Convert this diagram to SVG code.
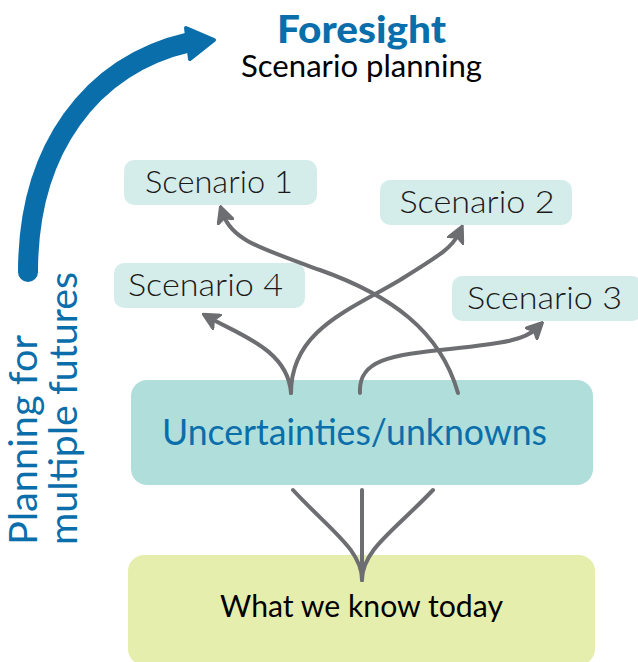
<svg xmlns="http://www.w3.org/2000/svg" width="638" height="662" viewBox="0 0 638 662">
<defs>
<style>
.sc rect{fill:#d5edea}
.sc text{font-family:Lato,"Noto Sans",sans-serif;font-weight:300;font-size:32px;fill:#1a1a1a;text-anchor:middle}
.con path{fill:none;stroke:#6d6e71;stroke-width:4;stroke-linecap:round}
</style>
<marker id="ah" viewBox="0 0 10 10" refX="5" refY="5" markerWidth="4.5" markerHeight="4.5" orient="auto" markerUnits="strokeWidth">
<path d="M0,0 L10,5 L0,10 L2.5,5 Z" fill="#6d6e71" stroke="#6d6e71" stroke-width="1" stroke-linejoin="round"/>
</marker>
</defs>
<rect width="638" height="662" fill="#fff"/>

<g id="bigarrow">
<path d="M28,272 C28,150 90,65 190,42" fill="none" stroke="#0a6eab" stroke-width="20" stroke-linecap="round"/>
<path d="M186,28 L214,40 L190,59 Z" fill="#0a6eab" stroke="#0a6eab" stroke-width="4" stroke-linejoin="round"/>
</g>

<g id="title">
<text x="361.5" y="43" font-family="Lato,'Noto Sans',sans-serif" font-weight="900" font-size="37" fill="#0a6eab" text-anchor="middle" textLength="169" lengthAdjust="spacingAndGlyphs">Foresight</text>
<text x="361.5" y="77" font-family="Lato,'Noto Sans',sans-serif" font-size="30" fill="#000" text-anchor="middle" textLength="241" lengthAdjust="spacingAndGlyphs">Scenario planning</text>
</g>

<g id="sidelabel" font-family="Lato,'Noto Sans',sans-serif" font-size="38" fill="#0a6eab">
<text transform="translate(37,545) rotate(-90)" textLength="210" lengthAdjust="spacingAndGlyphs">Planning for</text>
<text transform="translate(77,545) rotate(-90)" textLength="273" lengthAdjust="spacingAndGlyphs">multiple futures</text>
</g>

<g id="scenario1" class="sc"><rect x="124" y="160" width="193" height="45" rx="10"/><text x="219" y="193" textLength="148" lengthAdjust="spacingAndGlyphs">Scenario 1</text></g>
<g id="scenario2" class="sc"><rect x="380" y="180" width="192" height="45" rx="10"/><text x="477" y="213" textLength="155" lengthAdjust="spacingAndGlyphs">Scenario 2</text></g>
<g id="scenario4" class="sc"><rect x="114" y="263" width="191" height="45" rx="10"/><text x="205.5" y="296" textLength="155" lengthAdjust="spacingAndGlyphs">Scenario 4</text></g>
<g id="scenario3" class="sc"><rect x="452" y="276" width="190" height="45" rx="10"/><text x="544.5" y="309" textLength="155" lengthAdjust="spacingAndGlyphs">Scenario 3</text></g>

<g id="uncertainties">
<rect x="131" y="380" width="462" height="105" rx="16" fill="#b0dedb"/>
<text x="354.5" y="445" font-family="Lato,'Noto Sans',sans-serif" font-size="36" fill="#0a6eab" text-anchor="middle" textLength="385" lengthAdjust="spacingAndGlyphs">Uncertainties/unknowns</text>
</g>

<g id="today">
<rect x="128" y="555" width="467" height="110" rx="16" fill="#e6eeae"/>
<text x="361.5" y="617" font-family="Lato,'Noto Sans',sans-serif" font-size="30" fill="#000" text-anchor="middle" textLength="283" lengthAdjust="spacingAndGlyphs">What we know today</text>
</g>

<g id="connectors" class="con">
<path d="M291,393 C288,350 240,335 210,318" marker-end="url(#ah)"/>
<path d="M291,393 C291,330 350,310 400,280 C440,255 452,248 459,233" marker-end="url(#ah)"/>
<path d="M458,393 C440,330 390,295 320,270 C260,248 232,240 223,214" marker-end="url(#ah)"/>
<path d="M360,393 C358,360 390,355 450,349 C505,343 525,340 537,328" marker-end="url(#ah)"/>
<path d="M293,490 C330,530 362,550 362,580"/>
<path d="M362,490 L362,580"/>
<path d="M433,490 C395,530 362,550 362,580"/>
</g>
</svg>
